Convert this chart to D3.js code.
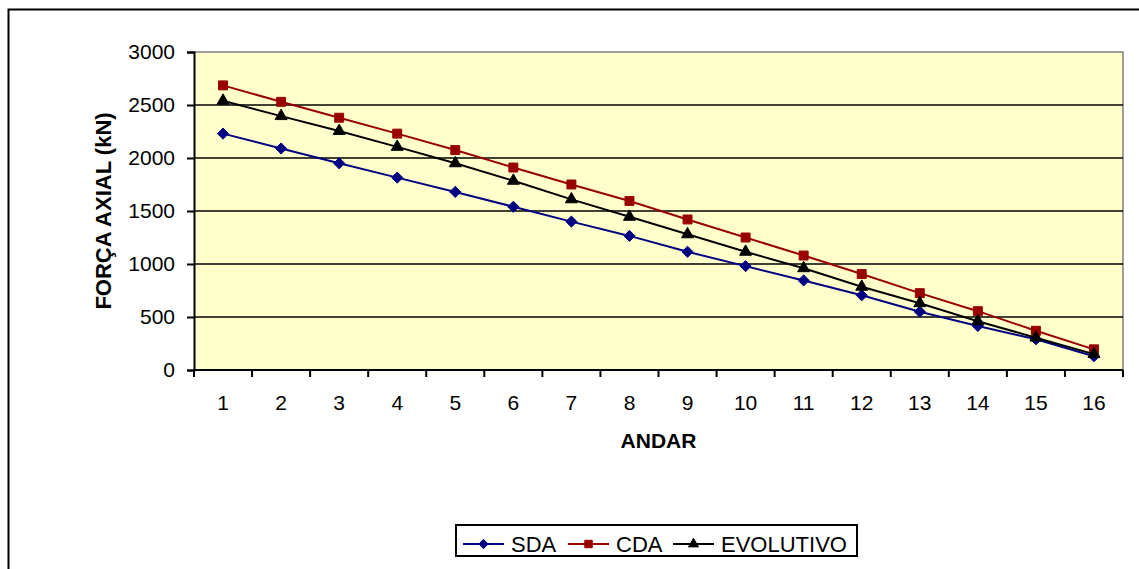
<!DOCTYPE html>
<html>
<head>
<meta charset="utf-8">
<script src="https://cdn.jsdelivr.net/npm/d3@7"></script>
<style>
  html, body { margin: 0; padding: 0; background: #fff; }
  svg { display: block; font-family: "Liberation Sans", Arial, sans-serif; }
</style>
</head>
<body>
<svg id="chart" width="1139" height="569"></svg>
<script>
// Axial force per floor for three analysis types
const andares = ["1","2","3","4","5","6","7","8","9","10","11","12","13","14","15","16"];
const sda  = [2230, 2090, 1950, 1815, 1680, 1540, 1400, 1265, 1115, 980, 845, 705, 550, 415, 290, 130];
const cda  = [2685, 2530, 2380, 2230, 2075, 1910, 1750, 1595, 1420, 1250, 1080, 905, 725, 555, 370, 195];
const evol = [2540, 2395, 2255, 2105, 1950, 1785, 1610, 1445, 1280, 1115, 960, 785, 630, 460, 305, 150];
const yTicks = [0, 500, 1000, 1500, 2000, 2500, 3000];
const seriesNames = ["SDA", "CDA", "EVOLUTIVO"];

// square-rotated diamond (equal width and height)
const symbolRhombus = {
  draw(context, size) {
    const r = Math.sqrt(size / 2);
    context.moveTo(0, -r);
    context.lineTo(r, 0);
    context.lineTo(0, r);
    context.lineTo(-r, 0);
    context.closePath();
  }
};

const series = [
  { name: seriesNames[0], values: sda,  color: "#000080", fill: "#000080", symbol: symbolRhombus,    size: 62 },
  { name: seriesNames[1], values: cda,  color: "#990000", fill: "#990000", symbol: d3.symbolSquare,   size: 80 },
  { name: seriesNames[2], values: evol, color: "#000000", fill: "#000000", symbol: d3.symbolTriangle, size: 62 }
];

const svg = d3.select("#chart");
const plot = { left: 194, right: 1123, top: 52, bottom: 370 };

// outer chart frame
svg.append("rect")
  .attr("x", 8.5).attr("y", 9.5)
  .attr("width", 1150).attr("height", 600)
  .attr("fill", "#fff").attr("stroke", "#000").attr("stroke-width", 2);

const x = d3.scaleBand().domain(andares).range([plot.left, plot.right]).padding(0);
const y = d3.scaleLinear().domain([0, 3000]).range([plot.bottom, plot.top]);

// plot background
svg.append("rect")
  .attr("x", plot.left).attr("y", plot.top)
  .attr("width", plot.right - plot.left).attr("height", plot.bottom - plot.top)
  .attr("fill", "#FFFFCC");

// gray plot border on top and right
svg.append("path")
  .attr("d", `M${plot.left},${plot.top}H${plot.right}V${plot.bottom}`)
  .attr("fill", "none").attr("stroke", "#808080").attr("stroke-width", 1.5);

// horizontal gridlines
svg.append("g")
  .selectAll("line")
  .data(yTicks.filter(v => v > 0 && v < 3000))
  .join("line")
  .attr("x1", plot.left).attr("x2", plot.right)
  .attr("y1", d => y(d)).attr("y2", d => y(d))
  .attr("stroke", "#000").attr("stroke-width", 1.5);

// y axis
const yAxis = svg.append("g")
  .attr("transform", `translate(${plot.left},0)`)
  .call(d3.axisLeft(y).tickValues(yTicks).tickSize(7).tickPadding(12).tickFormat(d3.format("d")));
yAxis.select(".domain").attr("stroke", "#000").attr("stroke-width", 2);
yAxis.selectAll(".tick line").attr("stroke", "#000").attr("stroke-width", 2);
yAxis.selectAll(".tick text")
  .attr("font-size", 21).attr("fill", "#000")
  .attr("font-family", "Liberation Sans, Arial, sans-serif");

// x axis: ticks at category boundaries, labels at centers
const xAxis = svg.append("g")
  .attr("transform", `translate(0,${plot.bottom})`);
xAxis.append("line")
  .attr("x1", plot.left).attr("x2", plot.right)
  .attr("stroke", "#000").attr("stroke-width", 2);
const boundaries = andares.map(a => x(a)).concat([x(andares[andares.length - 1]) + x.bandwidth()]);
xAxis.selectAll("line.tk")
  .data(boundaries)
  .join("line").attr("class", "tk")
  .attr("x1", d => d).attr("x2", d => d)
  .attr("y1", 0).attr("y2", 7)
  .attr("stroke", "#000").attr("stroke-width", 2);
xAxis.selectAll("text")
  .data(andares)
  .join("text")
  .attr("x", d => x(d) + x.bandwidth() / 2)
  .attr("y", 40)
  .attr("text-anchor", "middle")
  .attr("font-size", 21)
  .text(d => d);

// axis titles
svg.append("text")
  .attr("x", (plot.left + plot.right) / 2).attr("y", 448)
  .attr("text-anchor", "middle")
  .attr("font-size", 21).attr("font-weight", "bold")
  .text("ANDAR");

svg.append("text")
  .attr("transform", `translate(111,${(plot.top + plot.bottom) / 2}) rotate(-90)`)
  .attr("text-anchor", "middle")
  .attr("font-size", 22).attr("font-weight", "bold")
  .text("FORÇA AXIAL (kN)");

// series lines and markers
const line = d3.line()
  .x((d, i) => x(andares[i]) + x.bandwidth() / 2)
  .y(d => y(d));

series.forEach(s => {
  svg.append("path")
    .datum(s.values)
    .attr("d", line)
    .attr("fill", "none")
    .attr("stroke", s.color)
    .attr("stroke-width", 2);
  svg.append("g")
    .selectAll("path")
    .data(s.values)
    .join("path")
    .attr("transform", (d, i) => `translate(${x(andares[i]) + x.bandwidth() / 2},${y(d)})`)
    .attr("d", d3.symbol().type(s.symbol).size(s.size))
    .attr("fill", s.fill)
    .attr("stroke", s.color)
    .attr("stroke-width", 1);
});

// legend
const legend = svg.append("g");
legend.append("rect")
  .attr("x", 456).attr("y", 525)
  .attr("width", 401).attr("height", 31)
  .attr("fill", "#fff").attr("stroke", "#000").attr("stroke-width", 2);

const legendX = [463, 568, 673];
series.forEach((s, i) => {
  const g = legend.append("g").attr("transform", `translate(${legendX[i]},544)`);
  g.append("line")
    .attr("x1", 0).attr("x2", 41)
    .attr("stroke", s.color).attr("stroke-width", 2);
  g.append("path")
    .attr("transform", "translate(20.5,0)")
    .attr("d", d3.symbol().type(s.symbol).size(s.size * 0.7))
    .attr("fill", s.fill).attr("stroke", s.color).attr("stroke-width", 1);
  g.append("text")
    .attr("x", 48).attr("y", 7.5)
    .attr("font-size", 22)
    .text(s.name);
});
</script>
</body>
</html>
